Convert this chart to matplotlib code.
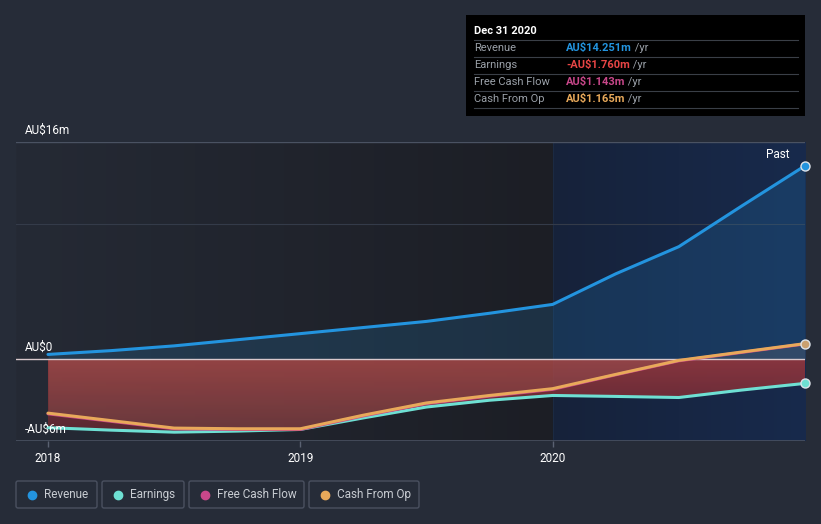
import numpy as np
import matplotlib.pyplot as plt
from matplotlib.patches import Rectangle, FancyBboxPatch
from matplotlib.colors import LinearSegmentedColormap

plt.rcParams['font.family'] = ['Roboto', 'DejaVu Sans']

# =========================
# data (AU$ m, trailing twelve months)
# =========================
periods = [2018.0, 2018.25, 2018.5, 2018.75, 2019.0, 2019.25, 2019.5,
           2019.75, 2020.0, 2020.25, 2020.5, 2020.75, 2021.0]
revenue = [0.37, 0.65, 1.0, 1.45, 1.9, 2.35, 2.8, 3.4, 4.05, 6.3, 8.3, 11.3, 14.251]
earnings = [-5.02, -5.2, -5.35, -5.27, -5.15, -4.3, -3.5, -3.0, -2.65, -2.72, -2.8, -2.25, -1.76]
free_cash_flow = [-4.0, -4.55, -5.1, -5.15, -5.15, -4.15, -3.25, -2.7, -2.2, -1.13, -0.1, 0.52, 1.143]
cash_from_op = [-3.95, -4.5, -5.05, -5.1, -5.1, -4.1, -3.2, -2.65, -2.15, -1.1, -0.07, 0.55, 1.165]

series_names = ["Revenue", "Earnings", "Free Cash Flow", "Cash From Op"]
series_colors = ["#2394df", "#6ee0d3", "#c8478a", "#e8a95a"]
tooltip_values = ["AU$14.251m", "-AU$1.760m", "AU$1.143m", "AU$1.165m"]
tooltip_colors = ["#2394df", "#e84545", "#c8478a", "#e8a95a"]
x_ticks = [2018, 2019, 2020]
y_ticks = [16, 0, -6]
y_labels = ["AU$16m", "AU$0", "-AU$6m"]

x = np.array(periods)
W, H = 821, 524
bg = "#262c38"

fig = plt.figure(figsize=(W / 100, H / 100), dpi=100, facecolor=bg)

# =========================
# main axes
# =========================
x0, x1 = 16, 805
y0, y1 = 142, 441
ax = fig.add_axes([x0 / W, 1 - y1 / H, (x1 - x0) / W, (y1 - y0) / H])
ax.set_facecolor(bg)
xmin = 2018 - 32 / 252.5
ax.set_xlim(xmin, 2021.0)
ax.set_ylim(-6, 16)
for s in ax.spines.values():
    s.set_visible(False)

# background shading: darker before 2020, navy "past" year
left_cmap = LinearSegmentedColormap.from_list("l", ["#252a35", "#1c1e25"])
ax.imshow(np.linspace(0, 1, 256)[None, :], cmap=left_cmap, aspect="auto",
          extent=[xmin, 2020.0, -6, 16], zorder=0)
right_cmap = LinearSegmentedColormap.from_list("r", ["#16223a", "#182a4c"])
ax.imshow(np.linspace(0, 1, 256)[None, :], cmap=right_cmap, aspect="auto",
          extent=[2020.0, 2021.0, -6, 16], zorder=0)
ax.axvline(2020.0, color="#1b2a42", lw=0.8, zorder=0.5)

# gridlines
ax.axhline(16, color="#4a5262", lw=1, zorder=1)
ax.axhline(10, color="#343b49", lw=0.8, zorder=1)
ax.axhline(-6, color="#4a5262", lw=1.2, zorder=1)

# revenue area
ax.fill_between(x, revenue, 0, color="#2394df", alpha=0.17, lw=0, zorder=2)

# red earnings area with vertical gradient
red_cmap = LinearSegmentedColormap.from_list("red", ["#5c2630", "#a0383d"])
poly = ax.fill_between(x, earnings, 0, color="none", lw=0, zorder=2)
img = ax.imshow(np.linspace(0, 1, 256)[:, None], cmap=red_cmap, aspect="auto",
                extent=[2018.0, 2021.0, -6, 0], origin="lower", alpha=0.82, zorder=2)
img.set_clip_path(poly.get_paths()[0], transform=ax.transData)

# cash from op area
ax.fill_between(x, cash_from_op, 0, color="#e0b090", alpha=0.12, lw=0, zorder=2.5)

ax.axhline(0, color="#d8c8cc", lw=1, zorder=3)

# lines
data = [revenue, earnings, free_cash_flow, cash_from_op]
for vals, c in zip(data, series_colors):
    ax.plot(x, vals, color=c, lw=2.2, zorder=4, solid_capstyle="round",
            solid_joinstyle="round")
for vals, c in zip([revenue, earnings, cash_from_op], ["#2394df", "#6ee0d3", "#c9a070"]):
    ax.plot(x[-1], vals[-1], "o", ms=6.5, mfc=c, mec="#dde3ea", mew=1, zorder=5,
            clip_on=False)

ax.text(2020.94, 14.6, "Past", color="white", fontsize=8.5, ha="right", va="bottom", zorder=6)

# y labels inside axes
for v, lab in zip(y_ticks, y_labels):
    ax.text(xmin + 9 / 252.5, v + 0.4, lab, color="white", fontsize=8.5,
            ha="left", va="bottom", zorder=6)
ax.set_yticks([])

ax.set_xticks(x_ticks)
ax.set_xticklabels([str(t) for t in x_ticks], color="white", fontsize=8.5)
ax.tick_params(axis="x", colors="#5a6272", length=4, width=1, pad=4, labelcolor="white")

# =========================
# overlay: tooltip + legend (pixel coords)
# =========================
ov = fig.add_axes([0, 0, 1, 1], facecolor="none")
ov.set_xlim(0, W)
ov.set_ylim(H, 0)
ov.axis("off")

ov.add_patch(Rectangle((466, 15), 339, 101, facecolor="black", edgecolor="none"))
ov.text(474, 31, "Dec 31 2020", color="white", fontsize=8, fontweight="bold", va="center")
row_y = [48, 65, 82, 99]
for i, (name, val, c) in enumerate(zip(series_names, tooltip_values, tooltip_colors)):
    ov.plot([474, 798], [row_y[i] - 8.5, row_y[i] - 8.5], color="#3a3f47", lw=0.8)
    ov.text(474, row_y[i], name, color="#9aa0a8", fontsize=8, va="center")
    t = ov.text(566, row_y[i], val, color=c, fontsize=8, fontweight="bold", va="center")
    ov.annotate(" /yr", xy=(1, 0.5), xycoords=t, color="#9aa0a8", fontsize=8,
                va="center", ha="left")
ov.plot([474, 798], [107.5, 107.5], color="#3a3f47", lw=0.8)

boxes = [(16, 97), (102, 184), (189, 304), (309, 419)]
for (bx0, bx1), name, c in zip(boxes, series_names, series_colors):
    ov.add_patch(FancyBboxPatch((bx0, 481), bx1 - bx0, 27,
                                boxstyle="round,pad=0,rounding_size=2",
                                facecolor="none", edgecolor="#4a5160", lw=1))
    ov.plot(bx0 + 16, 494.5, "o", ms=6, color=c)
    ov.text(bx0 + 28, 494.5, name, color="#c8ccd2", fontsize=8.5, va="center")

fig.savefig("out.png", dpi=100, facecolor=bg)
